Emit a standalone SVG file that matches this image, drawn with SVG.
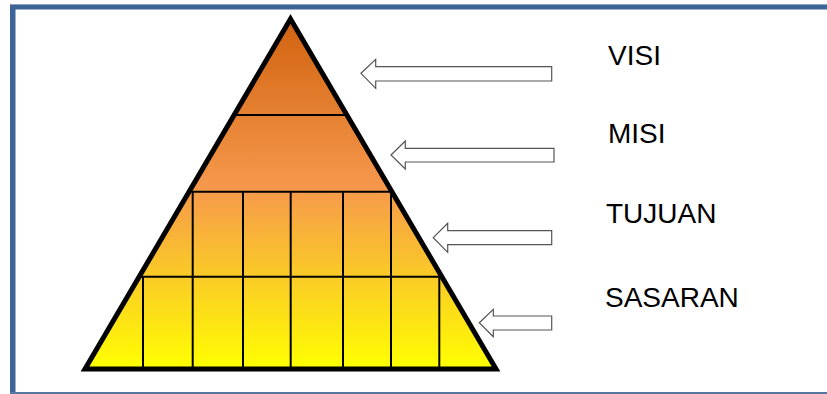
<svg xmlns="http://www.w3.org/2000/svg" width="827" height="394" viewBox="0 0 827 394">
<defs>
<linearGradient id="pg" x1="0" y1="19" x2="0" y2="369" gradientUnits="userSpaceOnUse">
<stop offset="0" stop-color="#d0620f"/>
<stop offset="0.48" stop-color="#f6984c"/>
<stop offset="1" stop-color="#ffff00"/>
</linearGradient>
<clipPath id="tri"><polygon points="290.5,19 496,369 85,369"/></clipPath>
<style>
.grid{stroke:#000;stroke-width:2;fill:none}
.arrow{fill:#fff;stroke:#555;stroke-width:1.2;stroke-linejoin:miter}
.lbl{font-family:"Liberation Sans",Arial,sans-serif;font-size:28px;fill:#000}
</style>
</defs>
<rect x="0" y="0" width="827" height="394" fill="#fff"/>
<g id="frame">
<rect x="10" y="4" width="817" height="1.5" fill="#8ea3bf"/>
<rect x="10" y="5" width="817" height="4.5" fill="#3c6496"/>
<rect x="10" y="5" width="5.5" height="389" fill="#3c6496"/>
<rect x="10" y="392" width="817" height="2" fill="#56769f"/>
</g>
<g id="pyramid">
<polygon points="290.5,19 496,369 85,369" fill="url(#pg)"/>
<g class="grid" clip-path="url(#tri)">
<line x1="224" y1="115" x2="357" y2="115"/>
<line x1="178" y1="191.7" x2="403" y2="191.7"/>
<line x1="128" y1="276.7" x2="453" y2="276.7"/>
<line x1="192.7" y1="191.7" x2="192.7" y2="369"/>
<line x1="243" y1="191.7" x2="243" y2="369"/>
<line x1="290.7" y1="191.7" x2="290.7" y2="369"/>
<line x1="343" y1="191.7" x2="343" y2="369"/>
<line x1="391" y1="191.7" x2="391" y2="369"/>
<line x1="143" y1="276.7" x2="143" y2="369"/>
<line x1="439.3" y1="276.7" x2="439.3" y2="369"/>
</g>
<polygon points="290.5,19 496,369 85,369" fill="none" stroke="#000" stroke-width="5" stroke-linejoin="miter" stroke-miterlimit="10"/>
</g>
<g id="connectors">
<polygon class="arrow" points="361,73.3 375.7,59.3 375.7,66.7 551.7,66.7 551.7,81 375.7,81 375.7,88.3"/>
<polygon class="arrow" points="391,155 405.3,141 405.3,148.3 554,148.3 554,162 405.3,162 405.3,169"/>
<polygon class="arrow" points="433.3,237.7 447.7,223.3 447.7,230.7 551.7,230.7 551.7,244.7 447.7,244.7 447.7,252.3"/>
<polygon class="arrow" points="479.3,322.7 493.3,309.3 493.3,316 551.7,316 551.7,330 493.3,330 493.3,336.7"/>
</g>
<g id="visi"><text class="lbl" x="608" y="65">VISI</text></g>
<g id="misi"><text class="lbl" x="608" y="143.3">MISI</text></g>
<g id="tujuan"><text class="lbl" x="606" y="223.3">TUJUAN</text></g>
<g id="sasaran"><text class="lbl" x="605" y="306.7">SASARAN</text></g>
</svg>
